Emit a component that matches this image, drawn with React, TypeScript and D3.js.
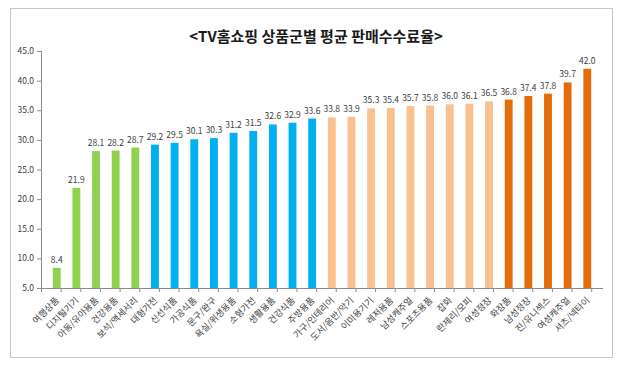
import React from "react";
import * as d3 from "d3";

const categories = [
  "여행상품", "디지털기기", "아동/유아용품", "건강용품", "보석/액세서리",
  "대형가전", "신선식품", "가공식품", "문구/완구", "욕실/위생용품",
  "소형가전", "생활용품", "건강식품", "주방용품",
  "가구/인테리어", "도서/음반/악기", "이미용기기", "레저용품", "남성캐주얼",
  "스포츠용품", "잡화", "란제리/모피", "여성정장",
  "화장품", "남성정장", "진/유니섹스", "여성캐주얼", "셔츠/넥타이",
];
const values = [
  8.4, 21.9, 28.1, 28.2, 28.7,
  29.2, 29.5, 30.1, 30.3, 31.2, 31.5, 32.6, 32.9, 33.6,
  33.8, 33.9, 35.3, 35.4, 35.7, 35.8, 36.0, 36.1, 36.5,
  36.8, 37.4, 37.8, 39.7, 42.0,
];
// color group per bar
const groups = [
  0, 0, 0, 0, 0,
  1, 1, 1, 1, 1, 1, 1, 1, 1,
  2, 2, 2, 2, 2, 2, 2, 2, 2,
  3, 3, 3, 3, 3,
];
const groupColors = ["#92D050", "#00B0F0", "#FAC090", "#E46C0A"];
const yTicks = [5, 10, 15, 20, 25, 30, 35, 40, 45];
const title = "<TV홈쇼핑 상품군별 평균 판매수수료율>";

export default function App() {
  const width = 620;
  const height = 367;
  const left = 41;
  const right = 603;
  const top = 51;
  const bottom = 288;
  const font = "'Noto Sans CJK KR', 'Noto Sans', sans-serif";

  const x = d3.scaleBand().domain(categories).range([left, right]).padding(0.6);
  const y = d3.scaleLinear().domain([5, 45]).range([bottom, top]);
  const step = x.step();
  const axisColor = "#8c8c8c";

  return (
    <svg
      width={width}
      height={height}
      style={{ position: "absolute", left: 0, top: 0, background: "#fff" }}
    >
      <rect x={10.5} y={8.5} width={602} height={349} fill="#fff" stroke="#c8c8c8" />
      <text
        x={316}
        y={42}
        textAnchor="middle"
        fontFamily={font}
        fontWeight="bold"
        fontSize={15}
        fill="#1a1a1a"
      >
        {title}
      </text>

      {/* y axis */}
      <line x1={left + 0.5} x2={left + 0.5} y1={top} y2={bottom} stroke={axisColor} />
      {yTicks.map((t) => (
        <g key={t}>
          <line x1={left - 4} x2={left} y1={y(t) + 0.5} y2={y(t) + 0.5} stroke={axisColor} />
          <text
            x={left - 7}
            y={y(t) + 3}
            textAnchor="end"
            fontFamily={font}
            fontSize={8.5}
            fill="#404040"
          >
            {t.toFixed(1)}
          </text>
        </g>
      ))}

      {/* x axis */}
      <line x1={left} x2={right} y1={bottom + 0.5} y2={bottom + 0.5} stroke={axisColor} />
      {d3.range(categories.length + 1).map((i) => (
        <line
          key={i}
          x1={left + i * step + 0.5}
          x2={left + i * step + 0.5}
          y1={bottom}
          y2={bottom + 4}
          stroke={axisColor}
        />
      ))}

      {categories.map((c, i) => {
        const cx = (x(c) ?? 0) + x.bandwidth() / 2;
        return (
          <g key={c}>
            <rect
              x={x(c)}
              y={y(values[i])}
              width={x.bandwidth()}
              height={bottom - y(values[i])}
              fill={groupColors[groups[i]]}
            />
            <text
              x={cx}
              y={y(values[i]) - 5}
              textAnchor="middle"
              fontFamily={font}
              fontSize={8.5}
              fill="#404040"
            >
              {values[i].toFixed(1)}
            </text>
            <text
              transform={`translate(${cx + 3},${bottom + 13}) rotate(-45)`}
              textAnchor="end"
              fontFamily={font}
              fontSize={9}
              fill="#404040"
            >
              {c}
            </text>
          </g>
        );
      })}
    </svg>
  );
}
